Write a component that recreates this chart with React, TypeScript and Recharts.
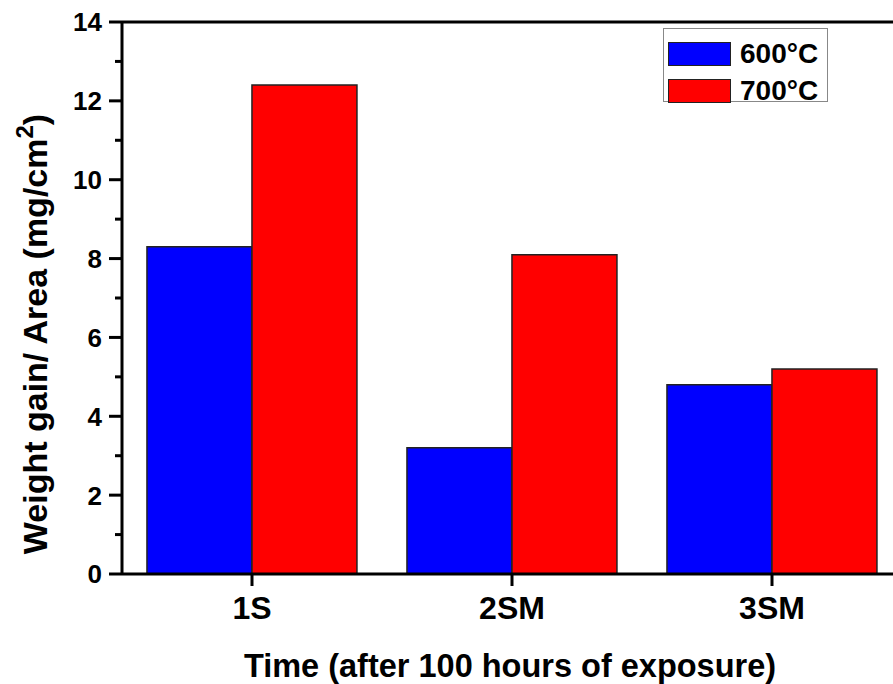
import { BarChart, Bar, XAxis, YAxis, Legend, ReferenceLine } from "recharts";

const samples = ["1S", "2SM", "3SM"];
const gain600 = [8.3, 3.2, 4.8];
const gain700 = [12.4, 8.1, 5.2];
const yTicks = [0, 1, 2, 3, 4, 5, 6, 7, 8, 9, 10, 11, 12, 13, 14];
const seriesNames = ["600°C", "700°C"];

const FONT = "Arial, 'Liberation Sans', sans-serif";

const data = samples.map((s, i) => ({ sample: s, t600: gain600[i], t700: gain700[i] }));

function YTick({ x, y, payload }: any) {
  const major = payload.value % 2 === 0;
  return (
    <g>
      <line x1={x - (major ? 13 : 7)} x2={x} y1={y} y2={y} stroke="#000" strokeWidth={3} />
      {major && (
        <text x={x - 20} y={y} dy="0.36em" textAnchor="end" fontFamily={FONT} fontWeight="bold" fontSize={26} fill="#000">
          {payload.value}
        </text>
      )}
    </g>
  );
}

function XTick({ x, y, payload }: any) {
  return (
    <g>
      <line x1={x} x2={x} y1={y} y2={y + 12} stroke="#000" strokeWidth={3} />
      <text x={x} y={y + 45} textAnchor="middle" fontFamily={FONT} fontWeight="bold" fontSize={32} fill="#000">
        {payload.value}
      </text>
    </g>
  );
}

function YTitle({ viewBox }: any) {
  const cx = viewBox.x + 47;
  const cy = viewBox.y + viewBox.height / 2 + 36;
  return (
    <text
      x={cx}
      y={cy}
      transform={`rotate(-90, ${cx}, ${cy})`}
      textAnchor="middle"
      fontFamily={FONT}
      fontWeight="bold"
      fontSize={34}
      fill="#000"
    >
      Weight gain/ Area (mg/cm<tspan dy={-14} fontSize={24}>2</tspan>
      <tspan dy={14}>)</tspan>
    </text>
  );
}

function XTitle({ viewBox }: any) {
  return (
    <text
      x={viewBox.x + viewBox.width / 2 - 2}
      y={viewBox.y + 103}
      textAnchor="middle"
      fontFamily={FONT}
      fontWeight="bold"
      fontSize={32.5}
      fill="#000"
    >
      Time (after 100 hours of exposure)
    </text>
  );
}

function LegendBox({ payload }: any) {
  return (
    <div
      style={{
        boxSizing: "border-box",
        width: 165,
        height: 74,
        border: "1.5px solid #888",
        background: "#fff",
        padding: "6px 0 0 4px",
        fontFamily: FONT,
      }}
    >
      {(payload ?? []).map((p: any) => (
        <div key={p.value} style={{ display: "flex", alignItems: "center", height: 37 }}>
          <span
            style={{
              display: "inline-block",
              boxSizing: "border-box",
              width: 63,
              height: 24,
              background: p.color,
              border: "1.5px solid #222",
            }}
          />
          <span style={{ marginLeft: 9, fontSize: 28, fontWeight: "bold", color: "#000", lineHeight: "24px" }}>
            {p.value}
          </span>
        </div>
      ))}
    </div>
  );
}

export default function App() {
  return (
    <div style={{ position: "fixed", left: 0, top: 0, width: 893, height: 684, overflow: "hidden", background: "#fff" }}>
      <BarChart
        width={910}
        height={684}
        data={data}
        margin={{ top: 22, right: 8, bottom: 50, left: 0 }}
        barCategoryGap="9.6%"
        barGap={0}
      >
        <ReferenceLine y={14} stroke="#000" strokeWidth={3} ifOverflow="visible" />
        <Bar dataKey="t600" name={seriesNames[0]} fill="#0000ff" stroke="#222" strokeWidth={1.5} isAnimationActive={false} />
        <Bar dataKey="t700" name={seriesNames[1]} fill="#ff0000" stroke="#222" strokeWidth={1.5} isAnimationActive={false} />
        <XAxis
          dataKey="sample"
          height={60}
          tickSize={0}
          tickMargin={0}
          tickLine={false}
          axisLine={{ stroke: "#000", strokeWidth: 3 }}
          tick={XTick}
          label={{ content: XTitle }}
        />
        <YAxis
          width={122}
          domain={[0, 14]}
          ticks={yTicks}
          interval={0}
          allowDataOverflow
          tickSize={0}
          tickMargin={0}
          tickLine={false}
          axisLine={{ stroke: "#000", strokeWidth: 3 }}
          tick={YTick}
          label={{ content: YTitle }}
        />
        <Legend
          layout="vertical"
          align="center"
          verticalAlign="middle"
          content={LegendBox}
          wrapperStyle={{ left: 663, top: 28, width: 165, height: 74 }}
        />
      </BarChart>
    </div>
  );
}
